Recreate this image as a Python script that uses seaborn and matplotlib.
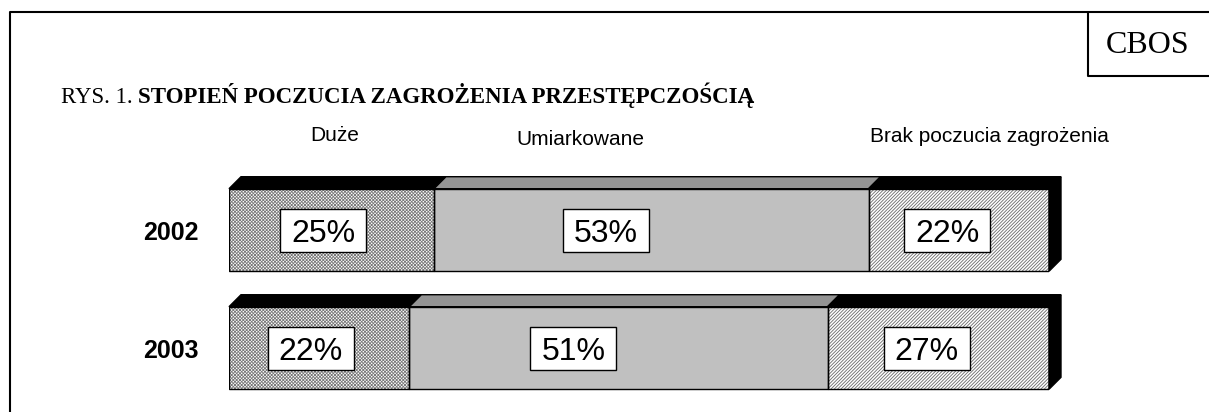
import pandas as pd
import seaborn as sns
import matplotlib.pyplot as plt
from matplotlib.patches import Polygon, Rectangle
from matplotlib.lines import Line2D

years = ["2002", "2003"]
categories = ["Duże", "Umiarkowane", "Brak poczucia zagrożenia"]
duze = [25, 22]
umiarkowane = [53, 51]
brak = [22, 27]

W, H = 1209, 412


def fx(px):
    return px / W


def fy(py):
    return 1 - py / H


sns.set_style("white")
plt.rcParams["hatch.linewidth"] = 0.6
plt.rcParams["text.color"] = "black"
plt.rcParams["ytick.color"] = "black"
plt.rcParams["ytick.labelcolor"] = "black"
sans = ["Liberation Sans", "DejaVu Sans"]
serif = ["Liberation Serif", "DejaVu Serif"]

rows = []
for i, y in enumerate(years):
    vals = [duze[i], umiarkowane[i], brak[i]]
    cum = 0
    for cat, v in zip(categories, vals):
        rows.append({"year": y, "category": cat, "value": v, "start": cum, "end": cum + v})
        cum += v
df = pd.DataFrame(rows)

face = {"Duże": "white", "Umiarkowane": "#c0c0c0", "Brak poczucia zagrożenia": "white"}
hatch = {"Duże": "xxxxxxxxxx", "Umiarkowane": None, "Brak poczucia zagrożenia": "//////////"}
hatch_col = {"Duże": "#7a7a7a", "Umiarkowane": "#c0c0c0", "Brak poczucia zagrożenia": "#6a6a6a"}
top_col = {"Duże": "black", "Umiarkowane": "#949494", "Brak poczucia zagrożenia": "black"}
label_shift = {"Duże": -1.0, "Umiarkowane": -5.5, "Brak poczucia zagrożenia": -1.4}

fig = plt.figure(figsize=(W / 100, H / 100), dpi=100)
ax = fig.add_axes([fx(229), fy(405), fx(1049) - fx(229), (405 - 150) / H])

bar_w = 0.7
# stacked bars: widest cumulative first, the others drawn on top
for cat in categories[::-1]:
    sub = df[df["category"] == cat]
    n0 = len(ax.patches)
    sns.barplot(data=sub, x="end", y="year", orient="h", order=years,
                color=face[cat], width=bar_w, ax=ax)
    for p in ax.patches[n0:]:
        p.set_facecolor(face[cat])
        p.set_edgecolor(hatch_col[cat])
        p.set_linewidth(0)
        if hatch[cat]:
            p.set_hatch(hatch[cat])

ax.set_xlim(0, 100)
ax.set_ylim(1.483, -0.678)
for s in ax.spines.values():
    s.set_visible(False)
ax.set_xticks([])
ax.set_xlabel("")
ax.set_ylabel("")
ax.tick_params(axis="y", length=0, pad=22)
for t in ax.get_yticklabels():
    t.set_fontfamily(sans)
    t.set_fontsize(18)
    t.set_fontweight("bold")
    t.set_color("black")

# depth of the 3D effect, 12 px
dx = 12 / 8.2
dy = 12 / 118

for _, r in df.iterrows():
    yc = years.index(r["year"])
    y0 = yc - bar_w / 2
    y1 = yc + bar_w / 2
    s, e = r["start"], r["end"]
    ax.add_patch(Rectangle((s, y0), e - s, y1 - y0, fill=False,
                           edgecolor="black", lw=1, zorder=4))
    ax.add_patch(Polygon([(s, y0), (e, y0), (e + dx, y0 - dy), (s + dx, y0 - dy)],
                         closed=True, facecolor=top_col[r["category"]],
                         edgecolor="black", lw=1, zorder=4, clip_on=False))
    if r["category"] == categories[-1]:
        ax.add_patch(Polygon([(e, y0), (e + dx, y0 - dy), (e + dx, y1 - dy), (e, y1)],
                             closed=True, facecolor="black", edgecolor="black",
                             lw=1, zorder=4, clip_on=False))
    xc = (s + e) / 2 + label_shift[r["category"]]
    bw, bh = 86 / 8.2, 43 / 118
    ax.add_patch(Rectangle((xc - bw / 2, yc - bh / 2), bw, bh, facecolor="white",
                           edgecolor="black", lw=1, zorder=5))
    ax.text(xc, yc + 11.5 / 118, f"{r['value']}%", ha="center", va="baseline",
            fontsize=23, family=sans, color="black", zorder=6)

# column headers
fig.text(fx(335), fy(141), categories[0], ha="center", va="baseline", fontsize=15, family=sans)
fig.text(fx(580), fy(145), categories[1], ha="center", va="baseline", fontsize=15, family=sans)
fig.text(fx(989), fy(142), categories[2], ha="center", va="baseline", fontsize=15, family=sans)

# title
t1 = fig.text(fx(61), fy(103), "RYS. 1. ", va="baseline", fontsize=16.5, family=serif)
ax.annotate("STOPIEŃ POCZUCIA ZAGROŻENIA PRZESTĘPCZOŚCIĄ", xy=(1, 0), xycoords=t1,
            va="bottom", ha="left", fontsize=16.5, family=serif, fontweight="bold",
            color="black", annotation_clip=False)

# frame and CBOS box
lw = 1.5
fig.add_artist(Line2D([fx(10), fx(10), 1], [0, fy(12), fy(12)], color="black", lw=lw))
fig.add_artist(Line2D([fx(1088), fx(1088), 1], [fy(12), fy(76), fy(76)], color="black", lw=lw))
fig.text(fx(1106), fy(53), "CBOS", va="baseline", ha="left", fontsize=23, family=serif)

fig.savefig("out.png", dpi=100)
